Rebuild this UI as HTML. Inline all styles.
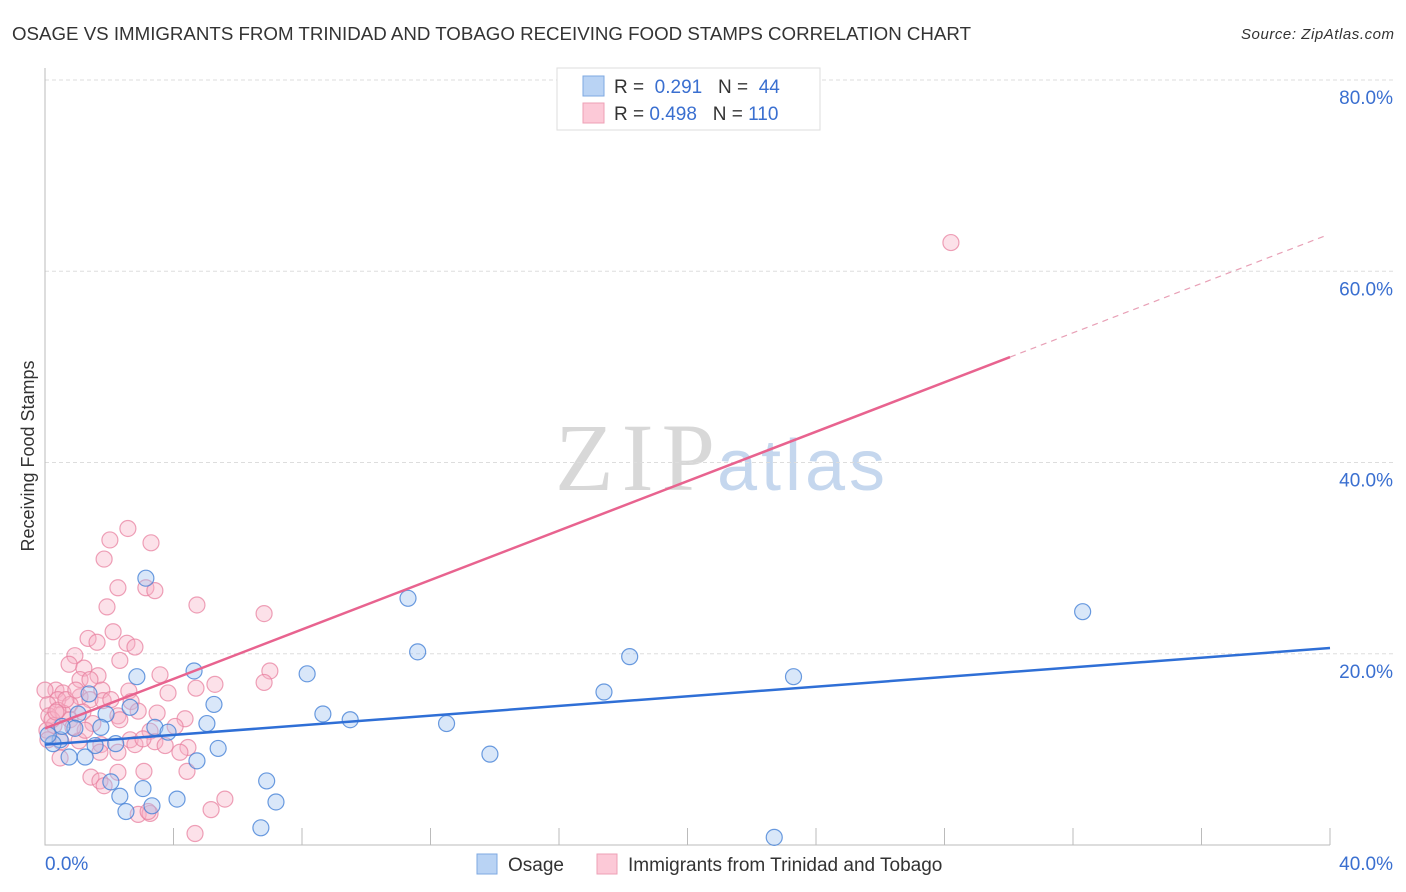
<!DOCTYPE html>
<html><head><meta charset="utf-8"><style>
body{margin:0;background:#fff;font-family:"Liberation Sans",sans-serif;}
#wrap{position:relative;width:1406px;height:892px;overflow:hidden;}
</style></head><body><div id="wrap">
<svg id="svg" width="1406" height="892" xmlns="http://www.w3.org/2000/svg" style="position:absolute;left:0;top:0">
<text x="12" y="40" font-size="18" fill="#333" textLength="959" lengthAdjust="spacingAndGlyphs">OSAGE VS IMMIGRANTS FROM TRINIDAD AND TOBAGO RECEIVING FOOD STAMPS CORRELATION CHART</text>
<text x="1394" y="39" font-size="15" font-style="italic" fill="#333" text-anchor="end" textLength="153">Source: ZipAtlas.com</text>
<text transform="translate(34,456) rotate(-90)" font-size="18" fill="#333" text-anchor="middle">Receiving Food Stamps</text>
<text x="555" y="490" font-size="96" fill="#d8d8d8" font-family="Liberation Serif,serif" textLength="160">ZIP</text>
<text x="717" y="490" font-size="72" fill="#c5d7ee" textLength="168">atlas</text>
<g id="grid"></g><g id="marks"></g><g id="lines"></g>
<g>
<rect x="557" y="68" width="263" height="62" fill="#fff" stroke="#ddd"/>
<rect x="583" y="76" width="21" height="20" fill="#b9d3f4" stroke="#7ea8e2"/>
<rect x="583" y="103" width="21" height="20" fill="#fcc9d7" stroke="#eea0b6"/>
<text x="614" y="93" font-size="19" fill="#333">R = <tspan fill="#3a6fd0">&#160;0.291</tspan>&#160;&#160;&#160;N = <tspan fill="#3a6fd0">&#160;44</tspan></text>
<text x="614" y="120" font-size="19" fill="#333">R = <tspan fill="#3a6fd0">0.498</tspan>&#160;&#160;&#160;N = <tspan fill="#3a6fd0">110</tspan></text>
</g>
<g>
<rect x="477" y="854" width="20" height="20" fill="#b9d3f4" stroke="#7ea8e2"/>
<text x="508" y="871" font-size="19" fill="#333">Osage</text>
<rect x="597" y="854" width="20" height="20" fill="#fcc9d7" stroke="#eea0b6"/>
<text x="628" y="871" font-size="19" fill="#333">Immigrants from Trinidad and Tobago</text>
</g>
</svg>
<script>
const yTicks=[20,40,60,80];
const xTickLabels=["0.0%","40.0%"];
const blueX=[3.14,11.3,32.3,11.6,18.2,4.64,8.16,2.86,23.3,17.4,1.37,5.26,2.65,8.65,1.9,1.03,9.5,5.04,12.5,1.74,3.42,3.83,0.47,0.25,2.2,1.56,5.39,0.75,1.25,4.73,13.85,6.9,2.05,3.05,2.33,4.11,3.33,7.19,2.52,6.72,22.7,0.1,0.93,0.53];
const blueY=[27.9,25.8,24.4,20.2,19.7,18.2,17.9,17.6,17.6,16.0,15.8,14.7,14.4,13.7,13.7,13.7,13.1,12.7,12.7,12.3,12.3,11.8,11.0,10.6,10.6,10.4,10.1,9.2,9.2,8.8,9.5,6.7,6.6,5.9,5.1,4.8,4.1,4.5,3.5,1.8,0.8,11.5,12.2,12.4];
const pinkX=[28.2,2.58,3.30,2.02,1.84,3.14,3.42,2.27,4.73,1.93,6.82,2.12,1.34,2.55,2.80,1.62,2.33,0.93,0.75,1.21,7.00,3.58,1.65,6.82,1.09,0.34,0.56,5.29,2.61,3.83,1.77,4.70,1.09,1.40,1.81,0.40,0.78,0.09,0.12,0.56,1.18,2.68,4.36,3.49,2.90,2.27,0.28,0.78,1.49,2.33,4.05,3.27,2.65,0.50,1.06,1.74,3.42,3.74,4.45,2.80,3.05,4.20,2.27,1.71,4.42,3.08,1.43,1.71,2.27,1.84,2.90,3.27,5.17,5.60,4.67,3.21,0.06,0.22,0.40,0.65,0.0,0.96,1.40,0.09,0.47,1.25,2.05,0.87,0.34];
const pinkY=[63.0,33.1,31.6,31.9,29.9,26.9,26.6,26.9,25.1,24.9,24.2,22.3,21.6,21.1,20.7,21.2,19.3,19.8,18.9,18.5,18.2,17.8,17.7,17.0,17.3,16.2,15.9,16.8,16.1,15.9,16.2,16.4,15.5,15.2,15.1,15.2,14.7,14.7,13.5,13.8,13.9,15.0,13.2,13.8,14.0,13.5,12.5,13.1,12.7,13.1,12.4,11.9,11.0,10.8,10.9,10.5,10.8,10.4,10.2,10.5,11.1,9.7,9.7,9.7,7.7,7.7,7.1,6.7,7.6,6.2,3.2,3.3,3.7,4.8,1.2,3.5,12.0,13.1,14.1,15.2,16.2,16.2,17.3,11.0,9.1,12.0,15.2,12.3,13.9];
const blueTrend=[10.5,20.6];
const pinkTrend=[12.2,63.9];
const pinkSolidEnd=30.04;

const X=v=>45+v*32.125, Y=v=>845-v*9.5625;
const NS="http://www.w3.org/2000/svg";
function mk(tag,attrs,parent){const e=document.createElementNS(NS,tag);for(const k in attrs)e.setAttribute(k,attrs[k]);parent.appendChild(e);return e;}
const grid=document.getElementById('grid'),marks=document.getElementById('marks'),lines=document.getElementById('lines');
yTicks.forEach(t=>{
 const g=mk('line',{x1:45,x2:1395,y1:Y(t),y2:Y(t),stroke:'#ddd','stroke-dasharray':'4,3'},grid);
 
 
 const l=mk('text',{x:1393,y:Y(t)+24,'font-size':19,fill:'#3a6fd0','text-anchor':'end'},grid);
 l.textContent=t.toFixed(1)+'%';
 
 
});
const ax=mk('path',{d:'M45,68V845H1330',stroke:'#bbb',fill:'none'},grid);


for(let i=1;i<=10;i++){const t=mk('line',{x1:X(i*4),x2:X(i*4),y1:828,y2:845,stroke:'#bbb'},grid);
 
 }
[[0,'start',45],[40,'end',1393]].forEach((d,i)=>{const l=mk('text',{x:d[2],y:870,'font-size':19,fill:'#3a6fd0','text-anchor':d[1]},grid);l.textContent=xTickLabels[i];
 
 });
pinkX.forEach((x,i)=>{const c=mk('circle',{cx:X(x),cy:Y(pinkY[i]),r:8,fill:'rgba(248,175,197,0.38)',stroke:'rgba(232,130,160,0.75)','stroke-width':1.2},marks);
 
 });
blueX.forEach((x,i)=>{const c=mk('circle',{cx:X(x),cy:Y(blueY[i]),r:8,fill:'rgba(160,195,240,0.4)',stroke:'rgba(70,130,215,0.8)','stroke-width':1.2},marks);
 
 });
const bl=mk('line',{x1:X(0),y1:Y(blueTrend[0]),x2:X(40),y2:Y(blueTrend[1]),stroke:'#2f6fd6','stroke-width':2.5},lines);


const pf=v=>pinkTrend[0]+(pinkTrend[1]-pinkTrend[0])*v/40;
const pl=mk('line',{x1:X(0),y1:Y(pf(0)),x2:X(pinkSolidEnd),y2:Y(pf(pinkSolidEnd)),stroke:'#e8638f','stroke-width':2.5},lines);


const pd=mk('line',{x1:X(pinkSolidEnd),y1:Y(pf(pinkSolidEnd)),x2:X(39.84),y2:Y(pf(39.84)),stroke:'#e8a0b6','stroke-width':1.2,'stroke-dasharray':'6,5'},lines);


</script>
</div></body></html>
